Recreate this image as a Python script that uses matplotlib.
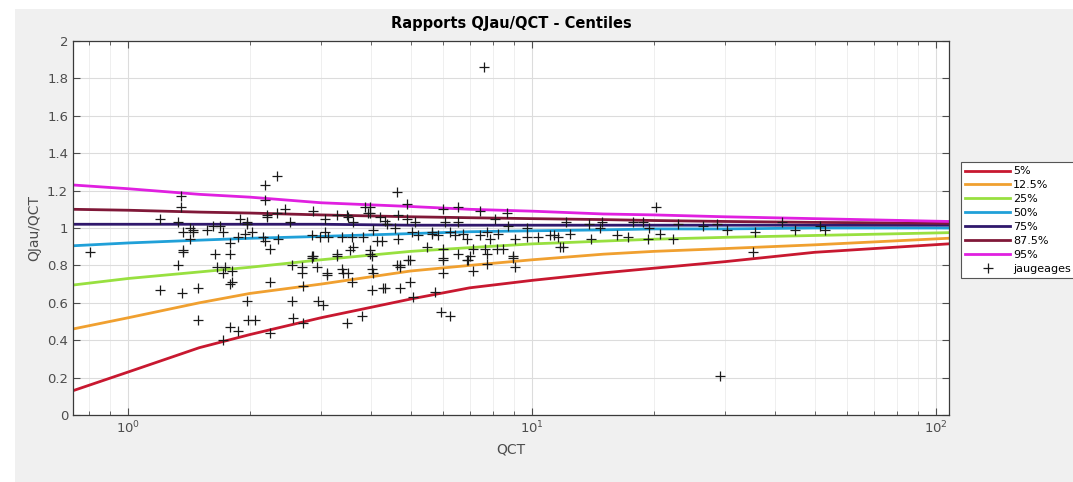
import matplotlib
matplotlib.use("Agg")
import matplotlib.pyplot as plt
from matplotlib.patches import Rectangle
from matplotlib.ticker import FormatStrFormatter

# centile curves (QCT sample points)
qct = [0.73, 1, 1.5, 2, 3, 5, 7, 10, 15, 20, 30, 50, 107]
c05 = [0.13, 0.23, 0.36, 0.43, 0.52, 0.62, 0.68, 0.72, 0.76, 0.785, 0.82, 0.87, 0.915]
c125 = [0.46, 0.52, 0.60, 0.65, 0.70, 0.77, 0.80, 0.83, 0.86, 0.875, 0.89, 0.91, 0.945]
c25 = [0.695, 0.73, 0.765, 0.79, 0.83, 0.875, 0.895, 0.915, 0.93, 0.94, 0.95, 0.96, 0.975]
c50 = [0.905, 0.92, 0.935, 0.945, 0.955, 0.97, 0.98, 0.985, 0.99, 0.995, 0.995, 1.0, 1.0]
c75 = [1.02, 1.02, 1.02, 1.02, 1.02, 1.015, 1.015, 1.015, 1.015, 1.015, 1.015, 1.015, 1.015]
c875 = [1.10, 1.095, 1.085, 1.08, 1.07, 1.06, 1.055, 1.05, 1.045, 1.04, 1.035, 1.03, 1.025]
c95 = [1.23, 1.21, 1.18, 1.165, 1.135, 1.115, 1.10, 1.09, 1.075, 1.07, 1.06, 1.05, 1.035]

centiles = ["5%", "12.5%", "25%", "50%", "75%", "87.5%", "95%"]
colors = ["#c81830", "#f0a030", "#98e040", "#20a0d8", "#30186c", "#801838", "#e020e0"]

# jaugeages
jx = [0.805, 1.20, 1.20, 1.33, 1.36, 1.49, 1.49, 1.37, 1.64, 1.79, 1.66, 1.74, 1.72, 1.81, 1.81,
      1.79, 1.72, 1.79, 1.87, 1.97, 1.98, 2.06, 2.25, 2.25, 2.55, 2.56, 2.55, 2.70, 2.70, 2.71,
      2.71, 2.95, 3.04, 2.87, 2.93, 3.11, 3.29, 3.40, 3.50, 3.59, 3.48, 3.80, 4.01, 4.28, 3.97,
      4.04, 4.63, 4.33, 4.71, 4.99, 4.71, 4.99, 5.08, 5.76, 6.00, 6.00, 5.93, 6.27, 6.55, 6.93,
      7.13, 7.74, 7.74, 8.97, 9.07, 11.7, 35.2, 29.2,
      2.18, 2.34, 2.18, 1.35, 1.35, 1.33, 1.89, 1.97, 2.21, 2.34, 2.45, 2.52, 2.87, 3.29, 3.48,
      3.61, 3.86, 4.63, 3.93, 4.21, 2.20, 1.45, 1.57, 1.62, 1.69, 1.72, 1.97, 1.95, 2.03, 1.87,
      2.15, 2.18, 2.25, 2.35, 1.79, 2.85, 1.42, 1.37, 1.45, 1.42, 1.37,
      4.90, 3.97, 3.07, 3.50, 3.97, 4.33, 4.66, 4.90, 5.13, 4.04, 4.38, 4.58, 3.07, 2.85, 2.99,
      3.12, 3.39, 3.59, 3.82, 3.61, 3.54, 4.14, 4.26, 4.66, 5.05, 5.22, 5.50, 5.66, 3.97, 2.85,
      3.29, 4.01, 4.71, 4.93, 3.11, 3.39, 4.01,
      6.00, 6.55, 7.43, 8.67, 8.10, 6.10, 6.55, 5.66, 5.83, 6.27, 6.44, 6.74, 6.89, 7.43, 7.74,
      7.87, 8.23, 8.72, 9.07, 9.72, 10.35, 11.1, 9.72, 6.03, 6.03, 7.00, 7.13, 7.65, 8.19, 8.47,
      8.97, 6.89,
      20.2, 12.1, 14.9, 13.8, 14.7, 17.8, 18.8, 19.5, 22.9, 26.5, 28.7, 30.3, 11.3, 12.4, 11.6,
      11.9, 14.0, 16.2, 17.3, 19.3, 20.7, 22.3,
      35.6, 41.5, 44.7, 51.6, 53.2, 7.60]
jy = [0.87, 1.05, 0.67, 0.80, 0.65, 0.68, 0.51, 0.88, 0.86, 0.86, 0.79, 0.79, 0.76, 0.77, 0.71,
      0.70, 0.40, 0.47, 0.45, 0.61, 0.51, 0.51, 0.71, 0.44, 0.61, 0.52, 0.80, 0.79, 0.76, 0.69,
      0.49, 0.61, 0.59, 0.85, 0.79, 0.76, 0.86, 0.76, 0.76, 0.71, 0.49, 0.53, 0.67, 0.68, 0.86,
      0.76, 0.80, 0.68, 0.68, 0.71, 0.80, 0.83, 0.63, 0.66, 0.76, 0.83, 0.55, 0.53, 0.86, 0.83,
      0.77, 0.81, 0.86, 0.84, 0.79, 0.90, 0.87, 0.21,
      1.23, 1.28, 1.15, 1.17, 1.11, 1.03, 1.05, 1.03, 1.07, 1.08, 1.10, 1.03, 1.09, 1.07, 1.07,
      1.03, 1.11, 1.19, 1.08, 1.06, 1.06, 0.99, 0.99, 1.01, 1.01, 0.98, 1.02, 0.97, 0.98, 0.95,
      0.95, 0.93, 0.89, 0.94, 0.92, 0.85, 1.00, 0.98, 0.98, 0.94, 0.87,
      1.13, 1.11, 1.05, 1.06, 1.08, 1.04, 1.07, 1.05, 1.03, 0.99, 1.02, 1.00, 0.98, 0.96, 0.95,
      0.95, 0.95, 0.95, 0.95, 0.90, 0.88, 0.93, 0.93, 0.94, 0.98, 0.96, 0.90, 0.97, 0.88, 0.84,
      0.85, 0.85, 0.79, 0.83, 0.75, 0.78, 0.78,
      1.10, 1.11, 1.09, 1.08, 1.05, 1.03, 1.03, 0.98, 0.96, 0.98, 0.96, 0.97, 0.94, 0.96, 0.98,
      0.94, 0.97, 1.01, 0.94, 0.95, 0.95, 0.96, 1.00, 0.89, 0.84, 0.85, 0.89, 0.89, 0.89, 0.89,
      0.85, 0.83,
      1.11, 1.03, 1.03, 1.02, 1.00, 1.03, 1.03, 1.00, 1.02, 1.01, 1.02, 0.99, 0.96, 0.97, 0.95,
      0.90, 0.94, 0.96, 0.95, 0.94, 0.97, 0.94,
      0.98, 1.03, 0.99, 1.01, 0.99, 1.86]

fig = plt.figure(figsize=(10.73, 4.82), dpi=100, facecolor="white")
fig.patches.append(Rectangle((15 / 1073, 0), 1, 473 / 482, transform=fig.transFigure,
                             facecolor="#f0f0f0", edgecolor="none", zorder=-10))

ax = fig.add_axes([73 / 1073, 67 / 482, 876 / 1073, 374 / 482])
ax.set_facecolor("white")

for vals, lab, col in zip([c05, c125, c25, c50, c75, c875, c95], centiles, colors):
    ax.plot(qct, vals, color=col, lw=2.0, label=lab)

ax.plot(jx, jy, linestyle="none", marker="+", color="#1a1a1a", markersize=7,
        markeredgewidth=0.9, label="jaugeages")

ax.set_xscale("log")
ax.set_xlim(0.73, 107.6)
ax.set_ylim(0, 2)
ax.set_yticks([0, 0.2, 0.4, 0.6, 0.8, 1, 1.2, 1.4, 1.6, 1.8, 2])
ax.yaxis.set_major_formatter(FormatStrFormatter("%g"))
ax.grid(True, which="major", color="#dcdcdc", lw=0.8)
ax.grid(True, which="minor", color="#ececec", lw=0.6)
ax.set_axisbelow(True)
ax.tick_params(which="both", direction="in", top=True, right=True, colors="#4d4d4d",
               labelsize=9.5)
ax.tick_params(which="major", length=5)
ax.tick_params(which="minor", length=3)
for s in ax.spines.values():
    s.set_color("#3a3a3a")
    s.set_linewidth(0.9)

ax.set_title("Rapports QJau/QCT - Centiles", fontsize=10.5, fontweight="bold", pad=9)
ax.set_xlabel("QCT", fontsize=10, color="#4d4d4d")
ax.set_ylabel("QJau/QCT", fontsize=10, color="#4d4d4d")

leg = fig.legend(loc="upper left", bbox_to_anchor=(961 / 1073, 1 - 162 / 482), fontsize=8,
                 frameon=True, fancybox=False, handlelength=4, handletextpad=0.3,
                 borderpad=0.4, labelspacing=0.35, borderaxespad=0)
leg.get_frame().set_edgecolor("#555555")
leg.get_frame().set_linewidth(0.8)
leg.get_frame().set_alpha(1)

fig.savefig("out.png", dpi=100, facecolor=fig.get_facecolor())
